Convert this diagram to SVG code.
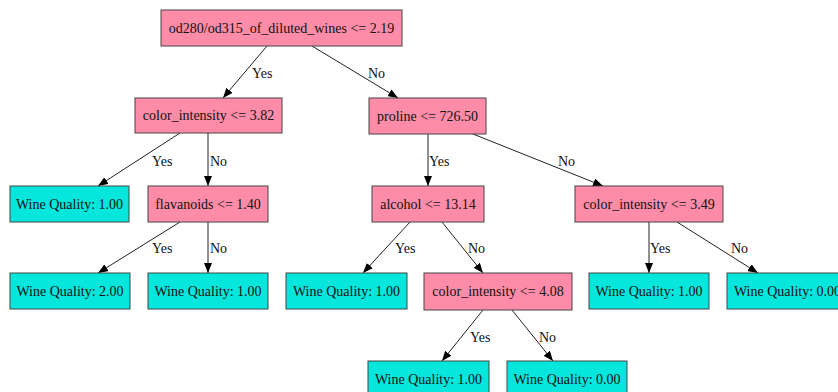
<svg xmlns="http://www.w3.org/2000/svg" width="838" height="392" viewBox="0 0 838 392">
<defs>
<marker id="arr" markerWidth="10" markerHeight="8" refX="10" refY="4" orient="auto" markerUnits="userSpaceOnUse">
<path d="M0,0 L10,4 L0,8 Z" fill="#000"/>
</marker>
<style>
.split rect{fill:#fe8ca8;stroke:#444;stroke-width:1}
.leaf rect{fill:#06e6dc;stroke:#444;stroke-width:1}
text{font-family:"Liberation Serif","Times New Roman",serif;font-size:14px;fill:#111;text-anchor:middle}
.lbl{font-size:14px;text-anchor:start}
#edges line{stroke:#222;stroke-width:1;marker-end:url(#arr)}
</style>
</defs>
<rect width="838" height="392" fill="#fff"/>
<g id="edges">
<line x1="267" y1="46" x2="223" y2="98"/>
<line x1="312" y1="46" x2="398" y2="98"/>
<line x1="180" y1="133" x2="98" y2="186"/>
<line x1="208" y1="133" x2="208" y2="186"/>
<line x1="180" y1="222" x2="98" y2="273"/>
<line x1="208" y1="222" x2="208" y2="273"/>
<line x1="428" y1="134" x2="428" y2="186"/>
<line x1="473" y1="134" x2="603" y2="186"/>
<line x1="410" y1="222" x2="363" y2="273"/>
<line x1="442" y1="222" x2="483" y2="273"/>
<line x1="649" y1="222" x2="649" y2="273"/>
<line x1="677" y1="222" x2="758" y2="273"/>
<line x1="483" y1="310" x2="442" y2="361"/>
<line x1="512" y1="310" x2="553" y2="361"/>
<text class="lbl" x="252" y="78">Yes</text>
<text class="lbl" x="368" y="78">No</text>
<text class="lbl" x="152" y="166">Yes</text>
<text class="lbl" x="210" y="166">No</text>
<text class="lbl" x="152" y="253">Yes</text>
<text class="lbl" x="210" y="253">No</text>
<text class="lbl" x="429" y="166">Yes</text>
<text class="lbl" x="558" y="166">No</text>
<text class="lbl" x="395" y="253">Yes</text>
<text class="lbl" x="468" y="253">No</text>
<text class="lbl" x="650" y="253">Yes</text>
<text class="lbl" x="731" y="253">No</text>
<text class="lbl" x="470" y="342">Yes</text>
<text class="lbl" x="539" y="342">No</text>
</g>
<g id="n0" class="split"><rect x="161" y="10" width="241" height="36"/><text x="281.5" y="33">od280/od315_of_diluted_wines &lt;= 2.19</text></g>
<g id="n1" class="split"><rect x="135" y="98" width="147" height="35"/><text x="208.5" y="120">color_intensity &lt;= 3.82</text></g>
<g id="n2" class="leaf"><rect x="10" y="186" width="119" height="36"/><text x="69.5" y="209">Wine Quality: 1.00</text></g>
<g id="n3" class="split"><rect x="148" y="186" width="120" height="36"/><text x="208" y="209">flavanoids &lt;= 1.40</text></g>
<g id="n4" class="leaf"><rect x="10" y="273" width="120" height="36"/><text x="70" y="296">Wine Quality: 2.00</text></g>
<g id="n5" class="leaf"><rect x="148" y="273" width="120" height="36"/><text x="208" y="296">Wine Quality: 1.00</text></g>
<g id="n6" class="split"><rect x="369" y="98" width="117" height="36"/><text x="427.5" y="121">proline &lt;= 726.50</text></g>
<g id="n7" class="split"><rect x="372" y="186" width="112" height="36"/><text x="428" y="209">alcohol &lt;= 13.14</text></g>
<g id="n8" class="leaf"><rect x="286" y="273" width="121" height="36"/><text x="346.5" y="296">Wine Quality: 1.00</text></g>
<g id="n9" class="split"><rect x="424" y="273" width="148" height="37"/><text x="498" y="296">color_intensity &lt;= 4.08</text></g>
<g id="n10" class="leaf"><rect x="368" y="361" width="121" height="36"/><text x="428.5" y="384">Wine Quality: 1.00</text></g>
<g id="n11" class="leaf"><rect x="507" y="361" width="120" height="36"/><text x="567" y="384">Wine Quality: 0.00</text></g>
<g id="n12" class="split"><rect x="575" y="186" width="148" height="36"/><text x="649" y="209">color_intensity &lt;= 3.49</text></g>
<g id="n13" class="leaf"><rect x="589" y="273" width="120" height="36"/><text x="649" y="296">Wine Quality: 1.00</text></g>
<g id="n14" class="leaf"><rect x="727" y="273" width="121" height="36"/><text x="787.5" y="296">Wine Quality: 0.00</text></g>
</svg>
